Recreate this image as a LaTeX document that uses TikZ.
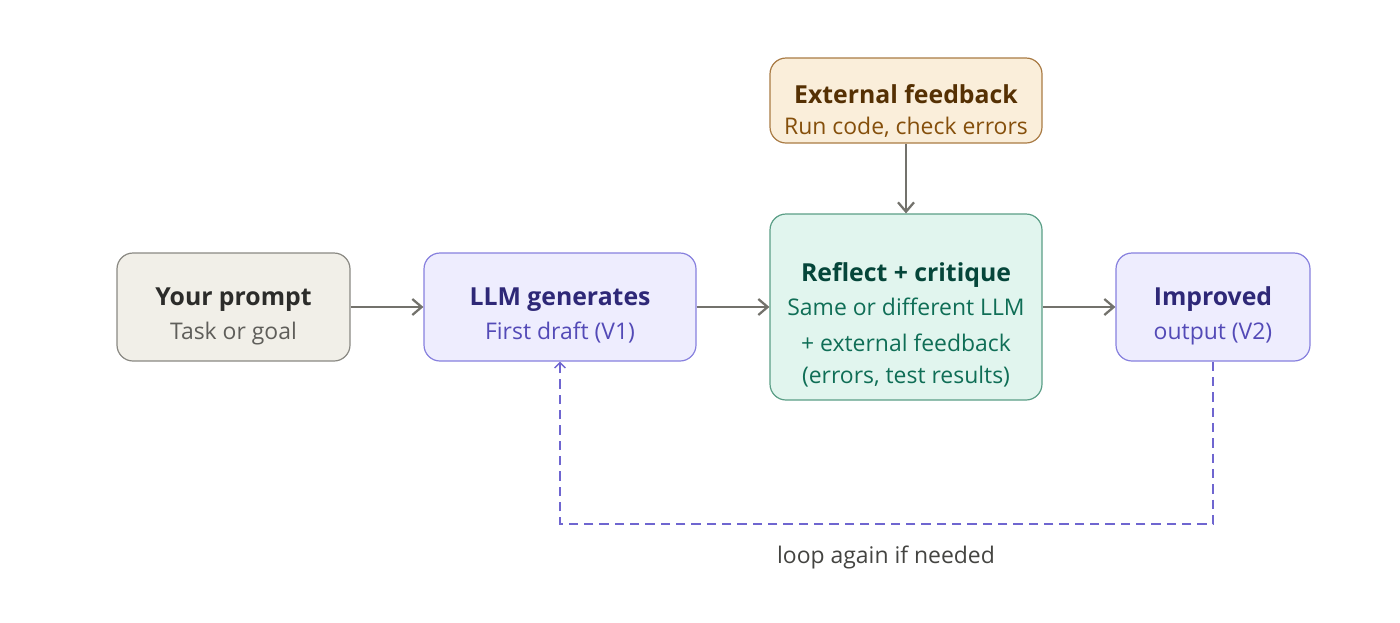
\documentclass[tikz,border=0pt]{standalone}
\usepackage{fontspec}
\setmainfont{Open Sans}
\usetikzlibrary{arrows.meta}
\definecolor{arrowgray}{HTML}{73726C}
\definecolor{gfill}{HTML}{F1EFE8}\definecolor{gdraw}{HTML}{8A8983}
\definecolor{gtitle}{HTML}{2C2C2A}\definecolor{gsub}{HTML}{5F5E5A}
\definecolor{pfill}{HTML}{EEEDFE}\definecolor{pdraw}{HTML}{8780DE}
\definecolor{ptitle}{HTML}{2E2877}\definecolor{psub}{HTML}{534AB7}
\definecolor{tfill}{HTML}{E1F5EE}\definecolor{tdraw}{HTML}{5A9E86}
\definecolor{ttitle}{HTML}{05463A}\definecolor{tsub}{HTML}{0F6E56}
\definecolor{ofill}{HTML}{FAEEDA}\definecolor{odraw}{HTML}{A97B44}
\definecolor{otitle}{HTML}{553003}\definecolor{osub}{HTML}{854F0B}
\definecolor{loopc}{HTML}{6F66D0}
\definecolor{labelc}{HTML}{444441}
\tikzset{
  box/.style={draw, rounded corners=12, line width=0.9pt, inner sep=0pt},
  ttl/.style={font=\fontsize{18.6}{22}\selectfont\bfseries, inner sep=0pt, anchor=base},
  sub/.style={font=\fontsize{17.2}{20}\selectfont, inner sep=0pt, anchor=base},
  flow/.style={draw=arrowgray, line width=1.9pt, -{Straight Barb[length=7pt,width=12pt,line width=1.7pt]}},
  loopline/.style={draw=loopc, line width=1.2pt, dash pattern=on 7pt off 4.5pt},
}
\begin{document}
\begin{tikzpicture}[x=0.75pt,y=-0.75pt]
\useasboundingbox (0,0) rectangle (1400,622);
% boxes
\node[box, fill=gfill, draw=gdraw, minimum width=233*0.75pt, minimum height=108*0.75pt] (prompt) at (233.5,307) {};
\node[box, fill=pfill, draw=pdraw, minimum width=272*0.75pt, minimum height=108*0.75pt] (llm) at (560,307) {};
\node[box, fill=tfill, draw=tdraw, minimum width=272*0.75pt, minimum height=186*0.75pt] (refl) at (906,307) {};
\node[box, fill=ofill, draw=odraw, minimum width=272*0.75pt, minimum height=85*0.75pt] (ext) at (906,100.5) {};
\node[box, fill=pfill, draw=pdraw, minimum width=194*0.75pt, minimum height=108*0.75pt] (imp) at (1213,307) {};
% texts
\node[ttl, text=gtitle] (t1) at (233.5,305) {Your prompt};
\node[sub, text=gsub] (s1) at (233.5,339) {Task or goal};
\node[ttl, text=ptitle] (t2) at (560,305) {LLM generates};
\node[sub, text=psub] (s2) at (560,339) {First draft (V1)};
\node[ttl, text=ttitle] (t3) at (906,281) {Reflect + critique};
\node[sub, text=tsub] (s3a) at (906,315) {Same or different LLM};
\node[sub, text=tsub] (s3b) at (906,351) {+ external feedback};
\node[sub, text=tsub] (s3c) at (906,383) {(errors, test results)};
\node[ttl, text=otitle] (t4) at (906,103) {External feedback};
\node[sub, text=osub] (s4) at (906,134) {Run code, check errors};
\node[ttl, text=ptitle] (t5) at (1213,305) {Improved};
\node[sub, text=psub] (s5) at (1213,339) {output (V2)};
\node[sub, text=labelc] (loopl) at (886,563) {loop again if needed};
% connectors
\draw[flow] (prompt.east) -- (llm.west);
\draw[flow] (llm.east) -- (refl.west);
\draw[flow] (refl.east) -- (imp.west);
\draw[flow] (ext.south) -- (refl.north);
\coordinate (c1) at (1213,524);
\coordinate (c2) at (560,524);
\draw[loopline, -{Straight Barb[length=4pt,width=8pt,line width=1.1pt]}] (imp.south) -- (c1) -- (c2) -- (llm.south);
\end{tikzpicture}
\end{document}
